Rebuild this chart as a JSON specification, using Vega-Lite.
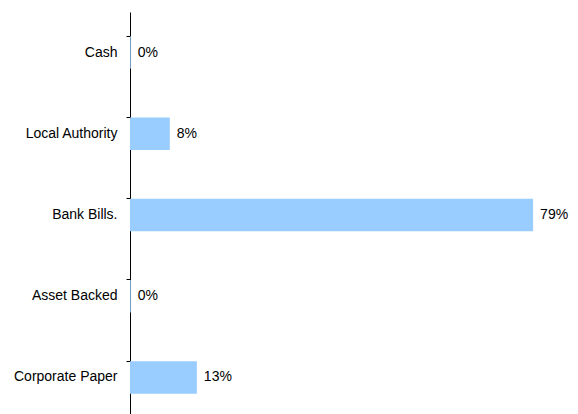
{
  "$schema": "https://vega.github.io/schema/vega-lite/v6.json",
  "autosize": "none",
  "width": 448,
  "height": 402,
  "padding": {"left": 130, "top": 12, "right": 0, "bottom": 0},
  "background": "white",
  "config": {"view": {"stroke": null}, "font": "Liberation Sans"},
  "data": {
    "values": [
      {"category": "Cash", "value": 0.0015},
      {"category": "Local Authority", "value": 0.078},
      {"category": "Bank Bills.", "value": 0.79},
      {"category": "Asset Backed", "value": 0.0015},
      {"category": "Corporate Paper", "value": 0.131}
    ]
  },
  "encoding": {
    "y": {
      "field": "category",
      "type": "nominal",
      "sort": null,
      "scale": {"range": [0, 406], "paddingInner": 0.6, "paddingOuter": 0.3},
      "axis": {
        "title": null,
        "domainColor": "#000000",
        "domainWidth": 1,
        "tickColor": "#000000",
        "tickSize": 4,
        "bandPosition": 0,
        "labelPadding": 9,
        "labelFontSize": 14,
        "labelColor": "#000000",
        "labelFont": "Liberation Sans",
        "grid": false
      }
    },
    "x": {
      "field": "value",
      "type": "quantitative",
      "scale": {"domain": [0, 0.878], "nice": false},
      "axis": null
    }
  },
  "layer": [
    {"mark": {"type": "bar", "color": "#99CCFF", "stroke": "#5a8fd0", "strokeWidth": 0, "strokeOpacity": 0}},
    {
      "mark": {"type": "text", "align": "left", "baseline": "middle", "dx": 7, "fontSize": 14, "color": "#000000", "font": "Liberation Sans"},
      "encoding": {"text": {"field": "value", "type": "quantitative", "format": ".0%"}}
    }
  ]
}
